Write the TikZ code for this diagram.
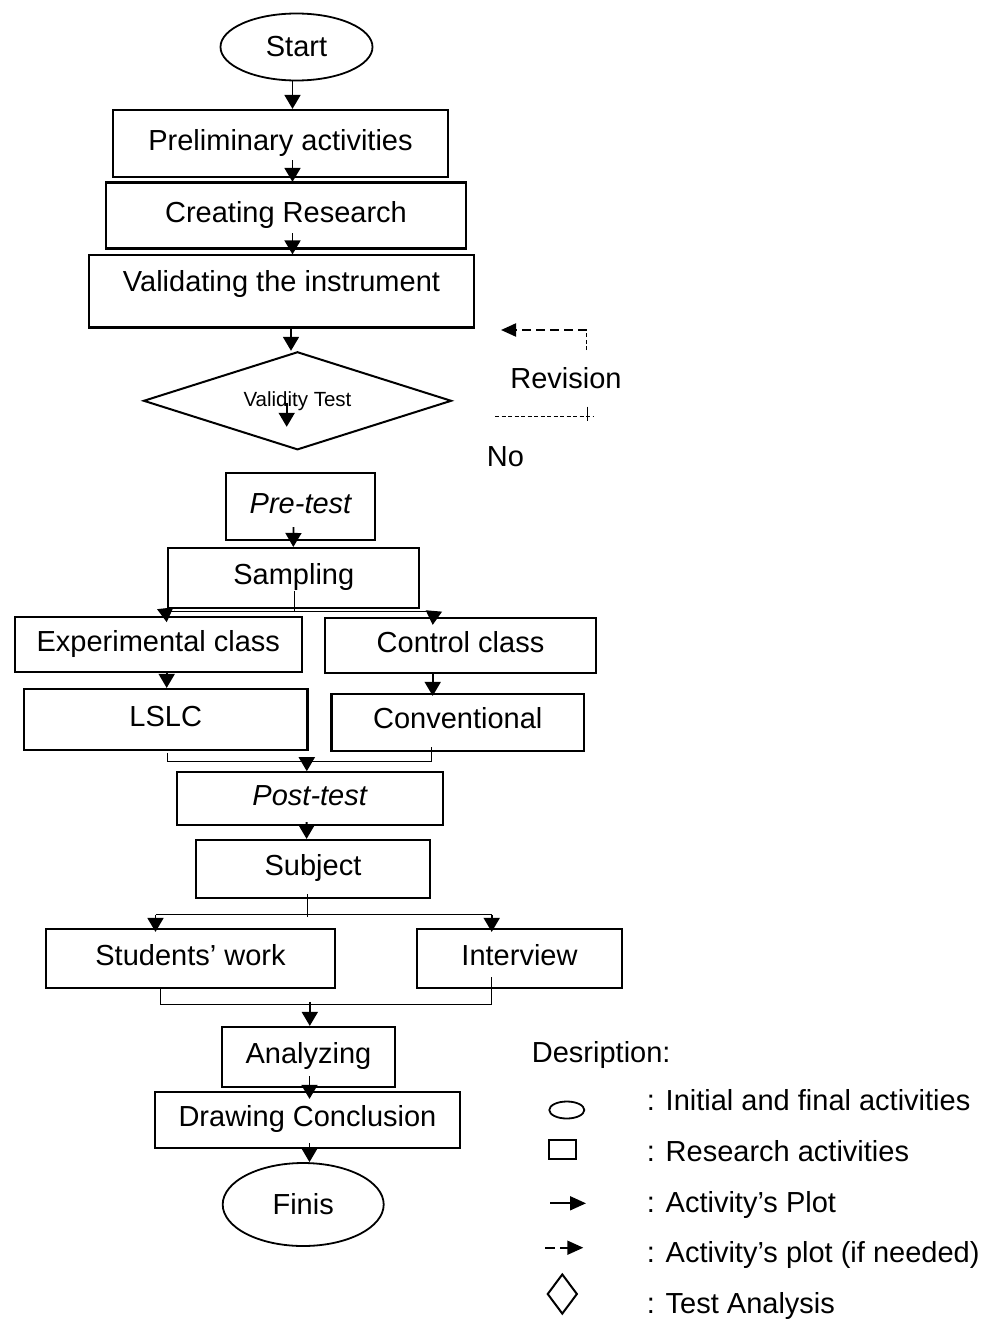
\documentclass[tikz,border=0pt]{standalone}
\usepackage{fontspec}
\setmainfont{Liberation Sans}
\usetikzlibrary{arrows.meta,shapes.geometric,calc}
\newcommand\bigf{\fontsize{29pt}{34pt}\selectfont}
\newcommand\smallf{\fontsize{20.5pt}{24pt}\selectfont}
\begin{document}
\begin{tikzpicture}[x=1pt,y=-1pt,
  box/.style={draw, rectangle, line width=2.2pt, inner sep=0pt, text height=21pt, text depth=8pt, font=\bigf},
  term/.style={draw, ellipse, line width=1.8pt, inner sep=0pt, font=\bigf},
  dec/.style={draw, diamond, aspect=3.15, line width=2pt, inner sep=0pt, font=\smallf},
  lbl/.style={inner sep=0pt, font=\bigf},
  arr/.style={line width=1.8pt, -{Triangle[length=14pt,width=16pt]}},
  larr/.style={line width=1.8pt, -{Triangle[length=16pt,width=14pt]}},
  branch/.style={line width=1pt},
  revarr/.style={line width=2pt, dash pattern=on 9pt off 5pt, -{Triangle[length=15pt,width=13pt]}},
  revthin/.style={line width=1pt, dash pattern=on 4pt off 2.5pt}
]
\fill[white] (0,0) rectangle (982,1319);
\useasboundingbox (0,0) rectangle (982,1319);

% main flow
\node[term, minimum width=152pt, minimum height=67pt] (start) at (296.5,47) {Start};
\node[box, minimum width=335pt, minimum height=67pt] (prelim) at (280.5,143.5) {Preliminary activities};
\node[box, minimum width=360pt, minimum height=66pt] (create) at (286,215.5) {Creating Research};
\node[box, minimum width=385pt, minimum height=72.5pt, text depth=21pt] (valid) at (281.5,291.25) {Validating the instrument};
\node[dec, minimum width=308pt, minimum height=98pt] (vt) at (297.5,400.8) {Validity Test};
\node[box, minimum width=149pt, minimum height=67pt, font=\bigf\itshape] (pretest) at (300.5,506.5) {Pre-test};
\node[box, minimum width=251pt, minimum height=60.3pt] (sampling) at (293.8,578.2) {Sampling};
\node[box, minimum width=286.7pt, minimum height=54.4pt] (exper) at (158.3,644.5) {Experimental class};
\node[box, minimum width=271pt, minimum height=55.6pt] (control) at (460.5,645.5) {Control class};
\node[box, minimum width=283.5pt, minimum height=61pt] (lslc) at (165.75,719.5) {LSLC};
\node[box, minimum width=252.5pt, minimum height=56.7pt] (conv) at (457.75,722.35) {Conventional};
\node[box, minimum width=266pt, minimum height=52.7pt, font=\bigf\itshape] (posttest) at (309.7,798.65) {Post-test};
\node[box, minimum width=234pt, minimum height=58pt] (subject) at (313,869) {Subject};
\node[box, minimum width=289pt, minimum height=59pt] (students) at (190.5,958.5) {Students’ work};
\node[box, minimum width=205pt, minimum height=59pt] (interview) at (519.5,958.5) {Interview};
\node[box, minimum width=173pt, minimum height=60pt] (analyzing) at (308.5,1057) {Analyzing};
\node[box, minimum width=305pt, minimum height=56pt] (drawing) at (307.5,1120) {Drawing Conclusion};
\node[term, minimum width=161pt, minimum height=83pt] (finis) at (303.2,1204.5) {Finis};

% revision / no
\node[lbl] (rev) at (566,378) {Revision};
\node[lbl] (no) at (505.5,456.7) {No};
\coordinate (r1) at (586.7,350);
\coordinate (r2) at (586.7,330);
\coordinate (r3) at (501,330);
\coordinate (r4) at (495,416.7);
\coordinate (r5) at (593.3,416.7);
\coordinate (r6) at (587.3,406.7);
\coordinate (r7) at (587.3,421);
\draw[revthin] (r1) -- (r2);
\draw[revarr] (r2) -- (r3);
\draw[revthin] (r4) -- (r5);
\draw[line width=0.8pt] (r6) -- (r7);

% connectors
\draw[arr] ($(start.south)+(-4,0)$) -- ($(prelim.north)+(12,0)$);
\draw[arr] ($(prelim.south)+(12,-18)$) -- ($(create.north)+(6.5,0.5)$);
\draw[arr] ($(create.south)+(6.5,-16.5)$) -- ($(valid.north)+(11,0.5)$);
\draw[arr] ($(valid.south)+(9.5,0)$) -- ($(vt.north)+(-6.5,0)$);
\coordinate (vtout) at ($(vt.center)+(-10.8,26)$);
\draw[arr] ($(vt.center)+(-10.8,2)$) -- (vtout);
\draw[arr] ($(pretest.south)+(-7,-14)$) -- ($(sampling.north)+(-0.5,0)$);

% sampling branch
\draw[branch] ($(sampling.south)+(0.2,-18)$) -- ($(sampling.south)+(0.2,2.4)$);
\draw[branch] ($(sampling.south west)+(-3.3,2.4)$) -- ($(sampling.south east)+(13.4,2.4)$);
\draw[arr] ($(sampling.south west)+(-1.6,2.4)$) -- ($(exper.north)+(8.4,6)$);
\draw[arr] ($(sampling.south east)+(13.4,2.4)$) -- ($(control.north)+(-27.8,8.3)$);
\draw[arr] ($(exper.south)+(8.4,0)$) -- ($(lslc.north)+(0.95,0)$);
\draw[arr] ($(control.south)+(-27.8,0)$) -- ($(conv.north)+(-25.05,3)$);

% merge to post-test
\draw[branch] ($(lslc.south)+(1.55,1.7)$) |- ($(conv.south)+(-26.75,9.3)$) -- ($(conv.south)+(-26.75,-4.7)$);
\draw[arr] ($(posttest.north)+(-2.9,-12.3)$) -- ($(posttest.north)+(-2.9,0)$);
\draw[arr] ($(posttest.south)+(-3.1,-4)$) -- ($(subject.north)+(-6.4,0)$);

% subject branch
\draw[branch] ($(subject.south)+(-6,-5)$) -- ($(subject.south)+(-6,18)$);
\draw[branch] ($(students.north)+(-35,-13)$) -- ($(interview.north)+(-27.8,-13)$);
\draw[arr] ($(students.north)+(-35,-13)$) -- ($(students.north)+(-35,4)$);
\draw[arr] ($(interview.north)+(-27.8,-13)$) -- ($(interview.north)+(-27.8,4)$);

% merge to analyzing
\draw[branch] ($(students.south)+(-29.7,0)$) |- ($(interview.south)+(-27.8,15)$) -- ($(interview.south)+(-27.8,-12)$);
\draw[arr] ($(analyzing.north)+(1.3,-24)$) -- ($(analyzing.north)+(1.3,0)$);
\draw[arr] ($(analyzing.south)+(1,-12)$) -- ($(drawing.north)+(2,8)$);
\draw[arr] ($(drawing.south)+(2,-6)$) -- ($(finis.north)+(6.3,0)$);

% legend
\node[lbl, anchor=base west] (desc) at (531.7,1062) {Desription:};
\node[draw, ellipse, line width=1.8pt, inner sep=0pt, minimum width=35pt, minimum height=17pt] (lgell) at (566.8,1110) {};
\node[draw, rectangle, line width=2pt, inner sep=0pt, minimum width=27pt, minimum height=19pt] (lgbox) at (562.7,1149.5) {};
\coordinate (la1) at (550,1203.3);
\coordinate (la2) at (586,1203.3);
\draw[larr] (la1) -- (la2);
\coordinate (lb1) at (545,1247.7);
\coordinate (lb2) at (555,1247.7);
\coordinate (lb3) at (560,1247.7);
\coordinate (lb4) at (583.3,1247.7);
\draw[line width=1.8pt] (lb1) -- (lb2);
\draw[larr] (lb3) -- (lb4);
\node[draw, diamond, line width=2pt, inner sep=0pt, minimum width=30pt, minimum height=40pt] (lgdia) at (562.3,1294) {};
\node[lbl, anchor=base west] (t1) at (646.7,1110) {: Initial and final activities};
\node[lbl, anchor=base west] (t2) at (646.7,1161) {: Research activities};
\node[lbl, anchor=base west] (t3) at (646.7,1212.5) {: Activity’s Plot};
\node[lbl, anchor=base west] (t4) at (646.7,1262) {: Activity’s plot (if needed)};
\node[lbl, anchor=base west] (t5) at (646.7,1313.5) {: Test Analysis};
\end{tikzpicture}
\end{document}
